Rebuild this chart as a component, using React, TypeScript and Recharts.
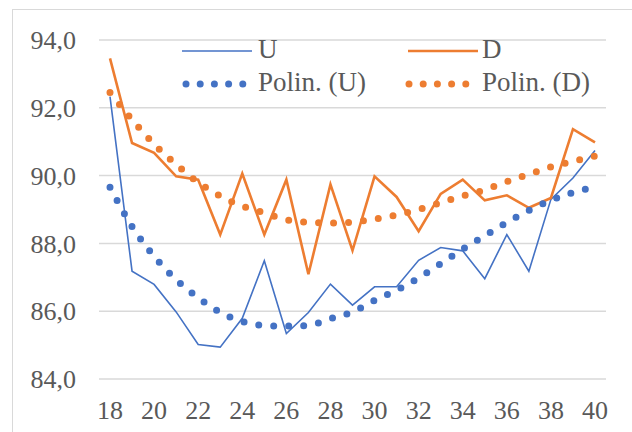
import { LineChart, Line, XAxis, YAxis, CartesianGrid, Legend } from "recharts";

const AGES = [18, 19, 20, 21, 22, 23, 24, 25, 26, 27, 28, 29, 30, 31, 32, 33, 34, 35, 36, 37, 38, 39, 40];

const U_VALUES = [
  92.33, 87.18, 86.79, 85.98, 85.02, 84.94, 85.79, 87.49, 85.34, 85.96, 86.8, 86.18,
  86.72, 86.72, 87.5, 87.88, 87.78, 86.96, 88.26, 87.18, 89.3, 89.93, 90.74,
];

const D_VALUES = [
  93.46, 90.96, 90.67, 89.98, 89.88, 88.26, 90.06, 88.26, 89.88, 87.09, 89.74, 87.79,
  89.98, 89.37, 88.36, 89.46, 89.88, 89.27, 89.42, 89.05, 89.34, 91.37, 90.98,
];

// trendlines (Excel "Polin.")
const U_TREND = [
  89.66, 88.5, 87.62, 86.93, 86.4, 85.97, 85.7, 85.58, 85.56, 85.58, 85.78, 85.98,
  86.32, 86.62, 86.98, 87.4, 87.83, 88.22, 88.62, 88.97, 89.27, 89.5, 89.67,
];

const D_TREND = [
  92.45, 91.65, 90.93, 90.33, 89.8, 89.4, 89.1, 88.9, 88.7, 88.62, 88.6, 88.63,
  88.72, 88.84, 89.0, 89.2, 89.4, 89.58, 89.82, 90.04, 90.26, 90.42, 90.58,
];

const Y_TICKS = [84, 86, 88, 90, 92, 94];

const BLUE = "#4472C4";
const ORANGE = "#ED7D31";
const GRID = "#d9d9d9";
const TEXT = "#595959";
const FONT = "Liberation Serif, Tinos, Times New Roman, serif";

const data = AGES.map((age, i) => ({
  age,
  U: U_VALUES[i],
  D: D_VALUES[i],
  polU: U_TREND[i],
  polD: D_TREND[i],
}));

const LEGEND_SLOTS: Record<string, { x: number; y: number; text: number; dotted: boolean; width: number }> = {
  U: { x: 182, y: 51, text: 258, dotted: false, width: 1.6 },
  D: { x: 408, y: 51, text: 482, dotted: false, width: 2.6 },
  "Polin. (U)": { x: 186, y: 84, text: 258, dotted: true, width: 7 },
  "Polin. (D)": { x: 409, y: 84, text: 482, dotted: true, width: 7 },
};

const LEGEND_DOTS = [0, 1, 2, 3, 4];

function renderLegend(props: any) {
  const items = props.payload ?? [];
  return (
    <svg width={632} height={100} style={{ display: "block" }}>
      {items.map((item: any) => {
        const slot = LEGEND_SLOTS[item.value];
        if (!slot) return null;
        return (
          <g key={item.value}>
            {slot.dotted ? (
              LEGEND_DOTS.map((k) => (
                <circle key={k} cx={slot.x + k * 14.2} cy={slot.y} r={slot.width / 2} fill={item.color} />
              ))
            ) : (
              <line x1={slot.x} x2={slot.x + 70} y1={slot.y} y2={slot.y} stroke={item.color} strokeWidth={slot.width} />
            )}
            <text x={slot.text} y={slot.y + 7} fontSize={27} style={{ fontFamily: FONT }} fill={TEXT}>
              {item.value}
            </text>
          </g>
        );
      })}
    </svg>
  );
}

export default function App() {
  return (
    <div style={{ position: "relative", width: 632, height: 432, overflow: "hidden", background: "#fff", fontFamily: FONT }}>
      <style>{"body{margin:0}"}</style>
      <div
        style={{
          position: "absolute",
          left: 12,
          top: 9,
          width: 700,
          height: 500,
          borderLeft: `1.5px solid ${GRID}`,
          borderTop: `1.5px solid ${GRID}`,
        }}
      />
      <LineChart
        width={632}
        height={432}
        data={data}
        margin={{ top: 40, right: 26, bottom: 0, left: 0 }}
        style={{ fontFamily: FONT }}
      >
        <CartesianGrid vertical={false} stroke={GRID} strokeWidth={1.5} />
        <XAxis
          dataKey="age"
          interval={1}
          padding={{ left: 11, right: 11 }}
          height={53}
          axisLine={false}
          tickLine={false}
          tickSize={0}
          tickMargin={22}
          tick={{ fill: TEXT, fontSize: 26, style: { fontFamily: FONT } }}
        />
        <YAxis
          domain={[84, 94]}
          ticks={Y_TICKS}
          width={99}
          axisLine={false}
          tickLine={false}
          tickSize={0}
          tickMargin={23}
          tickFormatter={(v: number) => v.toFixed(1).replace(".", ",")}
          tick={{ fill: TEXT, fontSize: 26, style: { fontFamily: FONT } }}
        />
        <Legend
          content={renderLegend}
          verticalAlign="middle"
          align="center"
          wrapperStyle={{ top: 0, left: 0, width: 632, height: 100 }}
        />
        <Line dataKey="U" name="U" stroke={BLUE} strokeWidth={1.6} dot={false} type="linear" isAnimationActive={false} />
        <Line dataKey="D" name="D" stroke={ORANGE} strokeWidth={2.6} dot={false} type="linear" isAnimationActive={false} />
        <Line
          dataKey="polU"
          name="Polin. (U)"
          stroke={BLUE}
          strokeWidth={7}
          strokeDasharray="0 15"
          strokeLinecap="round"
          dot={false}
          type="monotone"
          isAnimationActive={false}
        />
        <Line
          dataKey="polD"
          name="Polin. (D)"
          stroke={ORANGE}
          strokeWidth={7}
          strokeDasharray="0 15"
          strokeLinecap="round"
          dot={false}
          type="monotone"
          isAnimationActive={false}
        />
      </LineChart>
    </div>
  );
}
